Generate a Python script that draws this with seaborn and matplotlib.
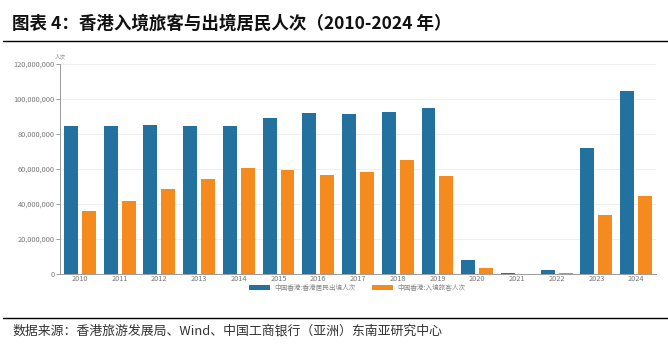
import pandas as pd
import seaborn as sns
import matplotlib.pyplot as plt
from matplotlib.ticker import FuncFormatter

# --- datos ---
years = [str(y) for y in range(2010, 2025)]
salidas_residentes = [84.4e6, 84.7e6, 85.1e6, 84.4e6, 84.5e6, 89.1e6, 91.9e6, 91.4e6,
                      92.4e6, 94.7e6, 8.0e6, 0.8e6, 2.1e6, 72.2e6, 104.8e6]
llegadas_visitantes = [36.0e6, 41.9e6, 48.6e6, 54.3e6, 60.8e6, 59.3e6, 56.7e6, 58.5e6,
                       65.1e6, 55.9e6, 3.6e6, 0.09e6, 0.6e6, 34.0e6, 44.5e6]
serie_azul = '中国香港:香港居民出境人次'
serie_naranja = '中国香港:入境旅客人次'
y_ticks = [0, 20e6, 40e6, 60e6, 80e6, 100e6, 120e6]

df = pd.DataFrame({
    'year': years * 2,
    'value': salidas_residentes + llegadas_visitantes,
    'serie': [serie_azul] * len(years) + [serie_naranja] * len(years),
})

sns.set_theme(style='white')
plt.rcParams['font.family'] = ['Noto Sans CJK SC', 'DejaVu Sans']

W, H = 668, 352
fig = plt.figure(figsize=(W / 100, H / 100), dpi=100)
ax = fig.add_axes([60 / W, 1 - 274 / H, (656 - 60) / W, (274 - 64) / H])

palette = {serie_azul: '#23719F', serie_naranja: '#F58A1F'}
sns.barplot(data=df, x='year', y='value', hue='serie', palette=palette,
            width=0.9, gap=0.22, saturation=1, linewidth=0, ax=ax, legend=True)

ax.set_ylim(0, 120e6)
ax.set_xlim(-0.5, len(years) - 0.5)
ax.set_yticks(y_ticks)
ax.yaxis.set_major_formatter(FuncFormatter(lambda v, p: f'{int(v):,}'))
ax.set_xlabel('')
ax.set_ylabel('')
ax.grid(axis='y', color='#ececec', linewidth=0.6)
ax.set_axisbelow(True)
for s in ['top', 'right']:
    ax.spines[s].set_visible(False)
for s in ['left', 'bottom']:
    ax.spines[s].set_color('#9a9a9a')
    ax.spines[s].set_linewidth(0.7)
ax.tick_params(axis='y', labelsize=5.3, colors='#777777', length=3, width=0.5, pad=1,
               left=True)
ax.tick_params(axis='x', labelsize=5.3, colors='#777777', length=0, pad=1)
ax.text(0, 1.02, '人次', transform=ax.transAxes, fontsize=4, color='#888888',
        ha='center', va='bottom')

handles, labels = ax.get_legend_handles_labels()
ax.legend(handles, labels, loc='center', bbox_to_anchor=(357 / W, 1 - 288 / H),
          bbox_transform=fig.transFigure, ncol=2, frameon=False, fontsize=4.8,
          handlelength=3.2, handleheight=0.7, handletextpad=0.6, columnspacing=2.5,
          labelcolor='#888888', borderpad=0)

# --- título y fuente ---
fig.text(12 / W, 1 - 24 / H, '图表 4：香港入境旅客与出境居民人次（2010-2024 年）',
         fontsize=12.6, weight='bold', ha='left', va='center', color='#111111')
fig.add_artist(plt.Line2D([3 / W, 1], [1 - 41 / H] * 2, color='black', linewidth=1))
fig.add_artist(plt.Line2D([3 / W, 1], [1 - 318 / H] * 2, color='black', linewidth=1))
fig.text(12 / W, 1 - 331 / H, '数据来源：香港旅游发展局、Wind、中国工商银行（亚洲）东南亚研究中心',
         fontsize=9.3, ha='left', va='center', color='#333333', style='italic')

fig.savefig('out.png', dpi=100)
